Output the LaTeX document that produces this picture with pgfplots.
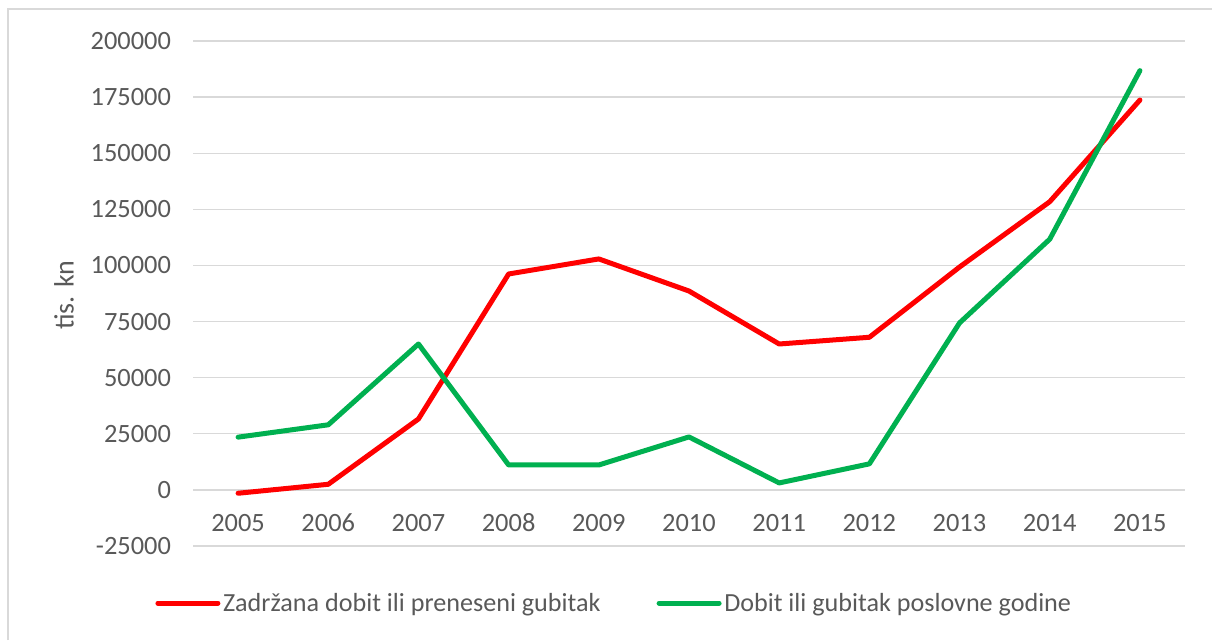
\documentclass[border=0pt]{standalone}
\usepackage{fontspec}
\setmainfont{Carlito}[Numbers=Lining]
\usepackage{pgfplots}
\pgfplotsset{compat=1.18}

\definecolor{txtgray}{HTML}{595959}
\definecolor{gridgray}{HTML}{D9D9D9}
\definecolor{excelred}{HTML}{FF0000}
\definecolor{excelgreen}{HTML}{00B050}

\begin{document}
\begin{tikzpicture}
\path[use as bounding box] (0,0) rectangle (909pt,480pt);
\draw[gridgray, line width=1.5pt] (6pt,0) -- (6pt,473.25pt) -- (909pt,473.25pt);
\begin{axis}[
    at={(144.75pt,70.5pt)}, anchor=south west,
    scale only axis,
    width=744pt, height=378.75pt,
    xmin=2004.5, xmax=2015.5,
    ymin=-25000, ymax=200000,
    axis x line*=middle,
    axis y line*=left,
    x axis line style={draw=gridgray, line width=1pt},
    y axis line style={draw=none},
    major tick length=0pt,
    scaled y ticks=false,
    xtick={2005,...,2015},
    xticklabels={2005,2006,2007,2008,2009,2010,2011,2012,2013,2014,2015},
    ytick={-25000,0,25000,50000,75000,100000,125000,150000,175000,200000},
    yticklabels={-25000,0,25000,50000,75000,100000,125000,150000,175000,200000},
    ymajorgrids,
    grid style={gridgray, line width=1pt},
    tick label style={font=\fontsize{19.8}{22}\selectfont, text=txtgray},
    xticklabel style={anchor=base, yshift=-31pt},
    yticklabel style={xshift=-13pt},
    ylabel={tis. kn},
    ylabel style={at={(axis description cs:-0.13,0.497)}, anchor=center, rotate=0,
        font=\fontsize{21}{24}\selectfont, text=txtgray},
    legend columns=2,
    legend style={at={(axis description cs:0.425,-0.113)}, anchor=center,
        draw=none, fill=none, font=\fontsize{19.6}{22}\selectfont, text=txtgray,
        /tikz/every even column/.append style={column sep=40pt},
        inner sep=0pt},
    legend image code/.code={\draw[#1] (0pt,0pt) -- (45pt,0pt);},
    every axis plot/.append style={line width=3.75pt, line join=round, line cap=round},
    clip=false,
]
\addplot[excelred] coordinates {
    (2005,-1500) (2006,2500) (2007,31600) (2008,96200) (2009,102900)
    (2010,88600) (2011,65000) (2012,68000) (2013,99300) (2014,128400) (2015,173700)
};
\addlegendentry{Zadržana dobit ili preneseni gubitak}
\addplot[excelgreen] coordinates {
    (2005,23500) (2006,29000) (2007,65000) (2008,11100) (2009,11100)
    (2010,23600) (2011,3100) (2012,11600) (2013,74400) (2014,111700) (2015,186800)
};
\addlegendentry{Dobit ili gubitak poslovne godine}
\end{axis}
\end{tikzpicture}
\end{document}
